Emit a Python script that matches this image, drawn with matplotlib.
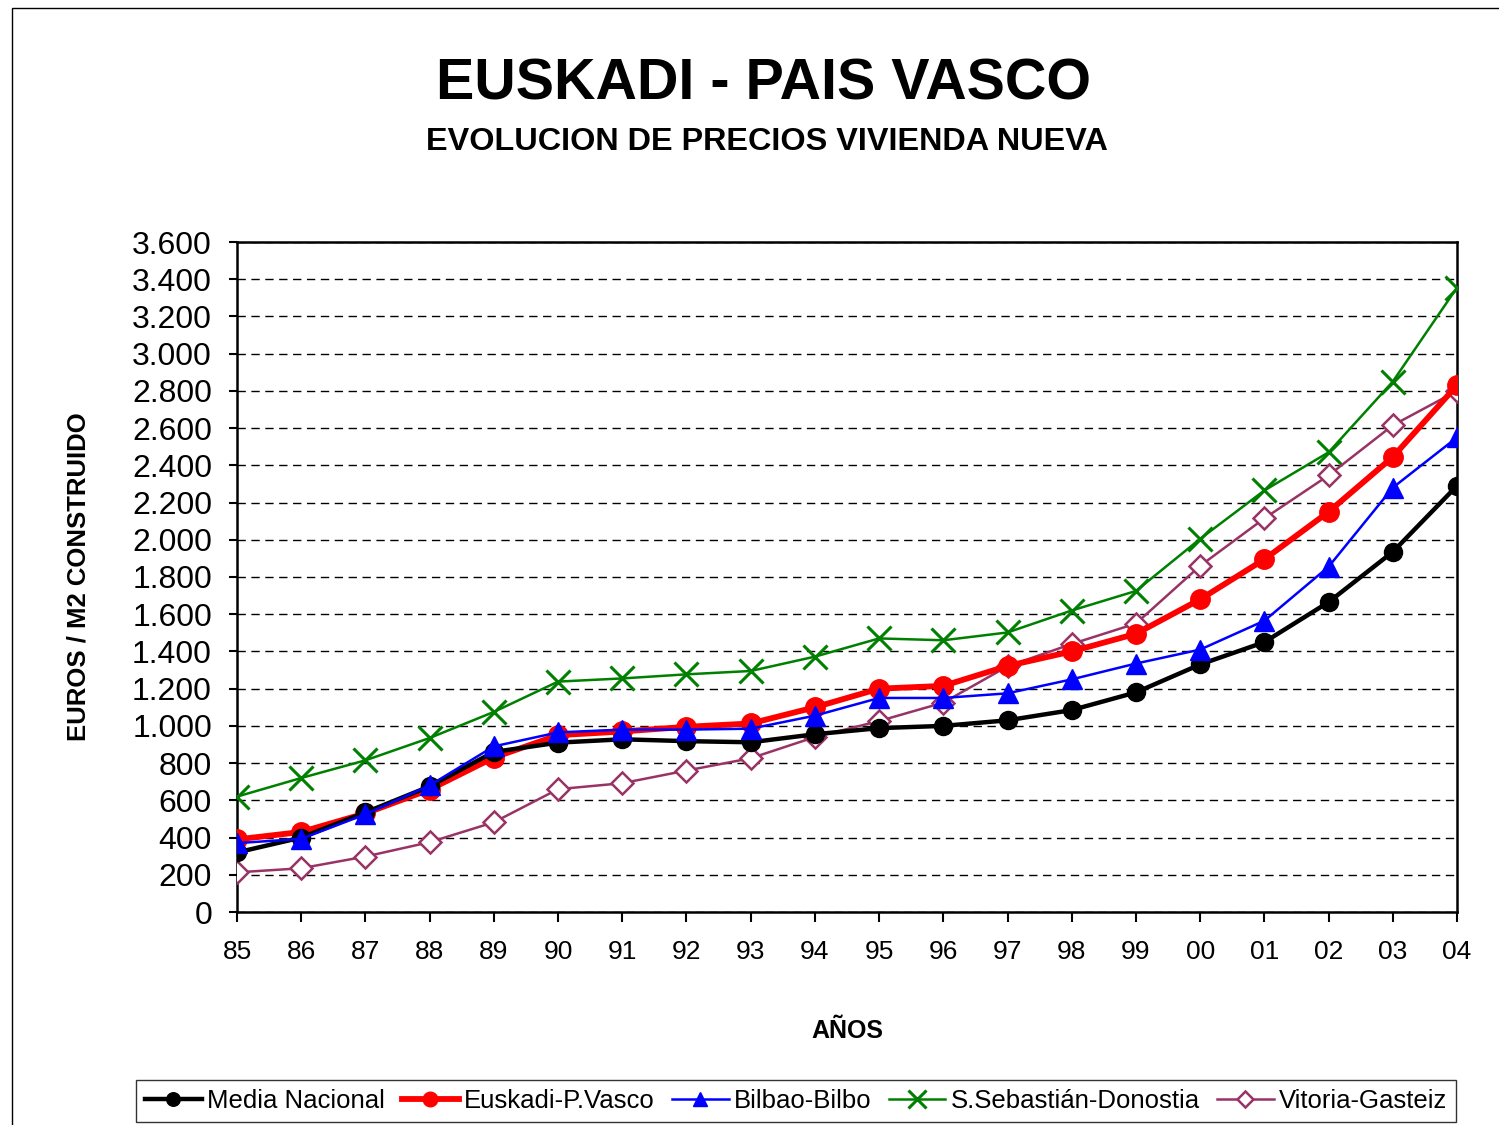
import numpy as np
import matplotlib
matplotlib.use("Agg")
import matplotlib.pyplot as plt
from matplotlib.ticker import FuncFormatter, MultipleLocator
from matplotlib.patches import Rectangle

plt.rcParams['font.family'] = ['Liberation Sans', 'DejaVu Sans']

# ---------------- DATA ----------------
years = ["85", "86", "87", "88", "89", "90", "91", "92", "93", "94",
         "95", "96", "97", "98", "99", "00", "01", "02", "03", "04"]

media_nacional = [320, 400, 535, 675, 860, 910, 928, 918, 912, 955,
                  988, 1000, 1030, 1085, 1180, 1330, 1450, 1665, 1935, 2290]
euskadi = [390, 430, 530, 658, 830, 950, 970, 995, 1013, 1100,
           1200, 1215, 1322, 1400, 1495, 1680, 1895, 2150, 2445, 2830]
bilbao = [370, 393, 525, 680, 890, 965, 980, 980, 985, 1055,
          1150, 1150, 1175, 1250, 1335, 1410, 1565, 1855, 2280, 2550]
donostia = [620, 720, 815, 935, 1075, 1238, 1255, 1277, 1295, 1372,
            1470, 1460, 1502, 1620, 1725, 2005, 2265, 2470, 2850, 3355]
vitoria = [213, 235, 298, 375, 482, 660, 692, 760, 826, 940,
           1026, 1125, 1320, 1440, 1550, 1860, 2115, 2346, 2615, 2800]

x = np.arange(len(years))

# ---------------- FIGURE ----------------
fig = plt.figure(figsize=(14.99, 11.25), dpi=100)
ax = fig.add_axes([237 / 1499, 1 - 912 / 1125, (1457 - 237) / 1499, (912 - 242) / 1125])

# outer chart frame (cut at right/bottom like the original)
fig.patches.append(Rectangle((12 / 1499, -0.1), 1.2, 1 - 8 / 1125 + 0.1,
                             transform=fig.transFigure, fill=False,
                             edgecolor='black', linewidth=1.0))

ax.plot(x, media_nacional, color='black', lw=3.2, marker='o', ms=13,
        label='Media Nacional', zorder=5)
ax.plot(x, euskadi, color='#ff0000', lw=4.2, marker='o', ms=14,
        label='Euskadi-P.Vasco', zorder=4)
ax.plot(x, bilbao, color='#0000ff', lw=1.8, marker='^', ms=14,
        label='Bilbao-Bilbo', zorder=6)
ax.plot(x, donostia, color='#008000', lw=1.8, marker='x', ms=17, mew=2.2,
        label='S.Sebastián-Donostia', zorder=3)
ax.plot(x, vitoria, color='#993366', lw=1.8, marker='D', ms=11, mew=1.8,
        mfc='white', label='Vitoria-Gasteiz', zorder=3)

# ---------------- AXES ----------------
ax.set_xlim(0, len(years) - 1)
ax.set_ylim(0, 3600)
ax.set_xticks(x)
ax.set_xticklabels(years, fontsize=19)
ax.yaxis.set_major_locator(MultipleLocator(200))
ax.yaxis.set_major_formatter(FuncFormatter(lambda v, p: f"{int(v):,}".replace(",", ".")))
ax.tick_params(axis='y', labelsize=23, length=6, width=1.5, pad=12)
ax.tick_params(axis='x', length=7, width=1.5, pad=13)
ax.yaxis.grid(True, linestyle=(0, (6, 4)), color='black', linewidth=1.0)
ax.set_axisbelow(True)
for s in ax.spines.values():
    s.set_linewidth(1.8)
    s.set_color('black')

ax.set_xlabel('AÑOS', fontsize=18, fontweight='bold', labelpad=40)
ax.set_ylabel('EUROS / M2 CONSTRUIDO', fontsize=18.5, fontweight='bold', labelpad=30)

# ---------------- TITLES ----------------
fig.text(763 / 1499, 1 - 85 / 1125, 'EUSKADI - PAIS VASCO', fontsize=41.3,
         fontweight='bold', ha='center', va='center')
fig.text(767 / 1499, 1 - 142 / 1125, 'EVOLUCION DE PRECIOS VIVIENDA NUEVA',
         fontsize=23.3, fontweight='bold', ha='center', va='center')

# ---------------- LEGEND ----------------
leg = fig.legend(loc='center', bbox_to_anchor=(796 / 1499, 1 - 1101 / 1125),
                 ncol=5, fontsize=18.5, frameon=True, fancybox=False,
                 handlelength=2.2, handletextpad=0.2, columnspacing=0.68,
                 borderpad=0.35, markerscale=0.75)
leg.get_frame().set_edgecolor('black')
leg.get_frame().set_linewidth(1.0)

fig.savefig('out.png', dpi=100, facecolor='white')
